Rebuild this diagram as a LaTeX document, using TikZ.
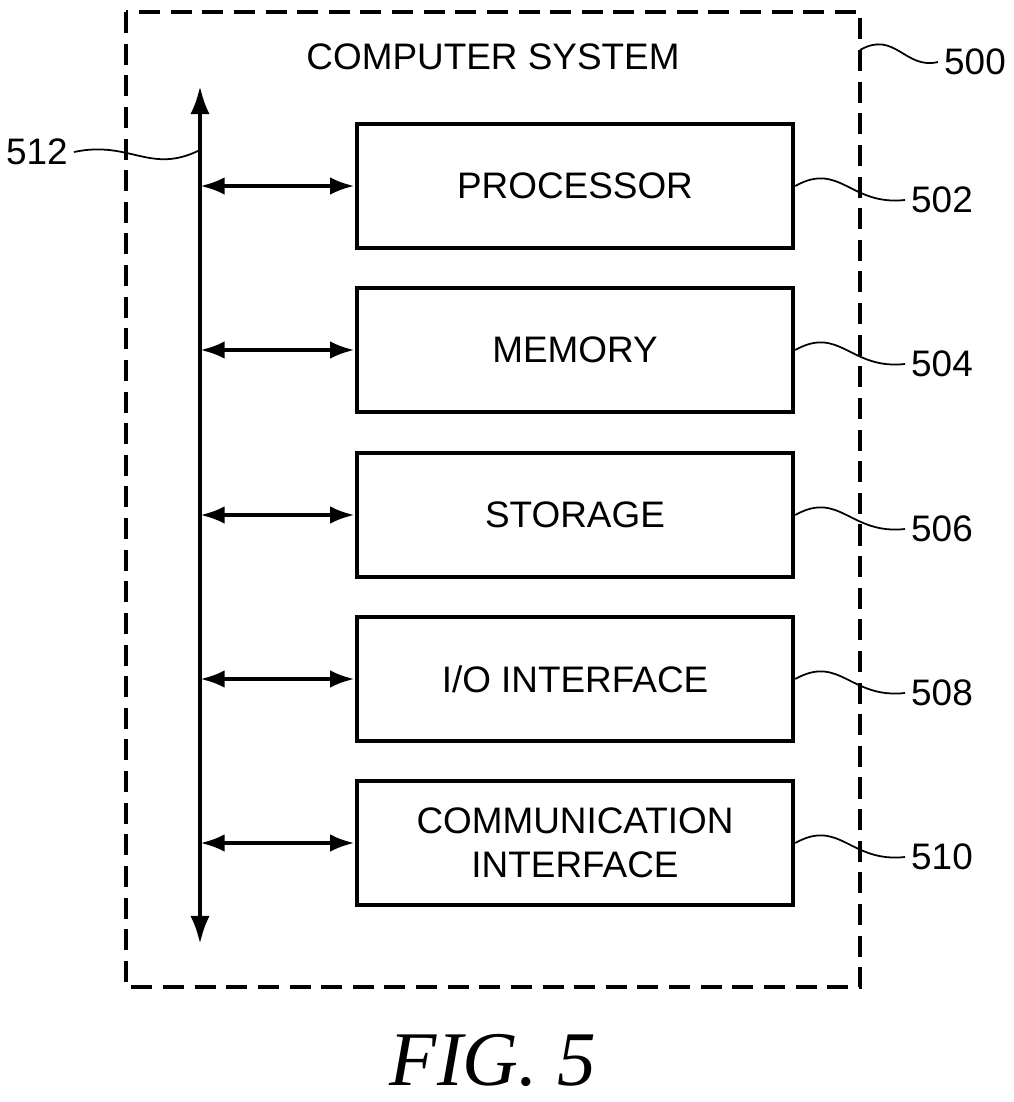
\documentclass[tikz,border=0pt]{standalone}
\usepackage{fontspec}
\setmainfont{Liberation Sans}
\newfontfamily\figfont{Liberation Serif}
\usetikzlibrary{arrows.meta}
\tikzset{
  blk/.style={draw, line width=2.6pt, minimum width=8.72cm, minimum height=2.48cm, align=center, font=\fontsize{21}{25}\selectfont},
  link/.style={line width=2.4pt, {Latex[length=14pt,width=10pt]}-{Latex[length=14pt,width=10pt]}},
  lead/.style={line width=1pt},
  ref/.style={font=\fontsize{21}{25}\selectfont}
}
\begin{document}
\begin{tikzpicture}[x=0.02cm,y=-0.02cm]
  \useasboundingbox (0,0) rectangle (1014,1102);
  % outer box
  \draw[line width=2.6pt, dash pattern=on 12pt off 6pt] (126,12) rectangle (860,987);
  \node[ref] (title) at (493,57) {COMPUTER SYSTEM};
  % bus
  \coordinate (bustop) at (200,86);
  \coordinate (busbot) at (200,944);
  \draw[line width=2.4pt, {Latex[length=16pt,width=11pt]}-{Latex[length=16pt,width=11pt]}] (bustop) -- (busbot);
  % blocks
  \foreach \name/\txt/\y/\num in {proc/PROCESSOR/186/502, mem/MEMORY/350/504, stor/STORAGE/515/506, io/I\slash O INTERFACE/679/508, comm/{COMMUNICATION\\INTERFACE}/843/510} {
    \node[blk] (\name) at (575,\y) {\txt};
    \coordinate (\name-bus) at (200,\y);
    \draw[link] (\name-bus) -- (\name.west);
    \node[ref] (\name-num) at (942,\y+14) {\num};
    \draw[lead] (\name.east) .. controls (840,\y-25) and (850,\y+20) .. (\name-num.west);
  }
  % reference labels
  \node[ref] (sys-num) at (975,62) {500};
  \draw[lead] (860,50) .. controls (895,30) and (905,70) .. (sys-num.west);
  \node[ref] (bus-num) at (37,152) {512};
  \draw[lead] (bus-num.east) .. controls (130,140) and (150,175) .. (200,150);
  \node[font=\figfont\itshape\fontsize{44}{48}\selectfont] (fig) at (493,1060) {FIG. 5};
\end{tikzpicture}
\end{document}
